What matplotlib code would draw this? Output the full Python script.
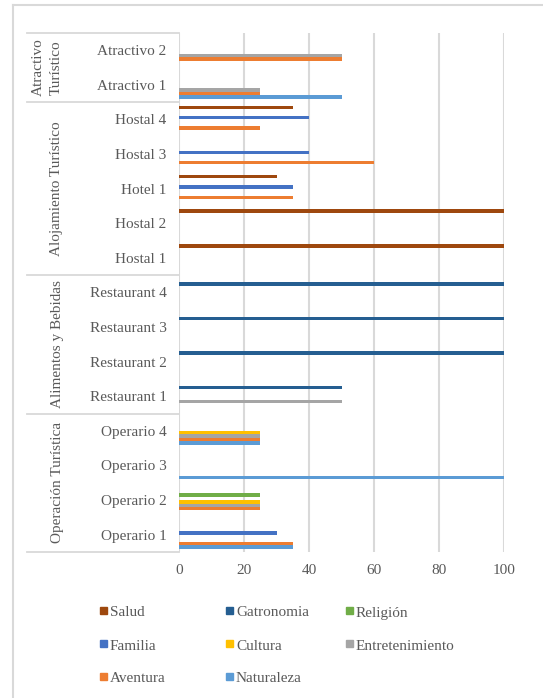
import numpy as np
import matplotlib.pyplot as plt
from matplotlib.patches import Rectangle
from matplotlib.lines import Line2D
from matplotlib.transforms import blended_transform_factory

plt.rcParams['font.family'] = ['Liberation Serif', 'DejaVu Serif']

# categories from bottom to top
categories = ["Operario 1", "Operario 2", "Operario 3", "Operario 4",
              "Restaurant 1", "Restaurant 2", "Restaurant 3", "Restaurant 4",
              "Hostal 1", "Hostal 2", "Hotel 1", "Hostal 3", "Hostal 4",
              "Atractivo 1", "Atractivo 2"]

groups = ["Operación Turística", "Alimentos y Bebidas",
          "Alojamiento Turístico", "Atractivo\nTurístico"]
group_sizes = [4, 4, 5, 2]

# series (drawn bottom to top within each category)
naturaleza      = [35, 0, 100, 25, 0, 0, 0, 0, 0, 0, 0, 0, 0, 50, 0]
aventura        = [35, 25, 0, 25, 0, 0, 0, 0, 0, 0, 35, 60, 25, 25, 50]
entretenimiento = [0, 25, 0, 25, 50, 0, 0, 0, 0, 0, 0, 0, 0, 25, 50]
cultura         = [0, 25, 0, 25, 0, 0, 0, 0, 0, 0, 0, 0, 0, 0, 0]
familia         = [30, 0, 0, 0, 0, 0, 0, 0, 0, 0, 35, 40, 40, 0, 0]
religion        = [0, 25, 0, 0, 0, 0, 0, 0, 0, 0, 0, 0, 0, 0, 0]
gatronomia      = [0, 0, 0, 0, 50, 100, 100, 100, 0, 0, 0, 0, 0, 0, 0]
salud           = [0, 0, 0, 0, 0, 0, 0, 0, 100, 100, 30, 0, 35, 0, 0]

series_names = ["Naturaleza", "Aventura", "Entretenimiento", "Cultura",
                "Familia", "Religión", "Gatronomia", "Salud"]
series_values = [naturaleza, aventura, entretenimiento, cultura,
                 familia, religion, gatronomia, salud]
colors = ["#5B9BD5", "#ED7D31", "#A5A5A5", "#FFC000",
          "#4472C4", "#70AD47", "#255E91", "#9E480E"]

xticks = [0, 20, 40, 60, 80, 100]

W, H = 543, 698
txt = "#595959"
grid = "#D9D9D9"
fs = 11

fig = plt.figure(figsize=(W / 100, H / 100), dpi=100)
ax = fig.add_axes([179 / W, 1 - 552 / H, (504 - 179) / W, (552 - 33) / H])

y = np.arange(len(categories))
h = 0.8 / len(series_names)
for k, (vals, c) in enumerate(zip(series_values, colors)):
    v = np.array(vals, dtype=float)
    v[v == 0] = np.nan
    ax.barh(y + (k - 3.5) * h, v, height=h, color=c, linewidth=0, zorder=3)

ax.set_xlim(0, 100)
ax.set_ylim(-0.5, len(categories) - 0.5)
ax.set_xticks(xticks)
ax.set_yticks(y)
ax.set_yticklabels(categories)
ax.tick_params(axis='both', length=0, colors=txt, labelsize=fs)
ax.tick_params(axis='y', pad=9)
ax.tick_params(axis='x', pad=9)
ax.grid(axis='x', color=grid, linewidth=1.5, zorder=0)
for s in ax.spines.values():
    s.set_visible(False)

# multi-level category axis
tr = blended_transform_factory(fig.transFigure, ax.transData)
bounds = np.concatenate([[0], np.cumsum(group_sizes)]) - 0.5
for b in bounds:
    fig.add_artist(Line2D([27 / W, 179 / W], [b, b], transform=tr,
                          color=grid, linewidth=1.3))
for name, lo, hi in zip(groups, bounds[:-1], bounds[1:]):
    xg = 47 / W if "\n" in name else 57 / W
    fig.text(xg, (lo + hi) / 2, name, transform=tr, rotation=90,
             ha='center', va='center', color=txt, fontsize=fs,
             linespacing=1.5)

# chart outer frame (partly cropped)
fig.add_artist(Line2D([13 / W, 1], [1 - 5 / H, 1 - 5 / H], color=grid, linewidth=1.5))
fig.add_artist(Line2D([13 / W, 13 / W], [0, 1 - 5 / H], color=grid, linewidth=1.5))

# legend, Excel style 3 columns
legend_order = [7, 6, 5, 4, 3, 2, 1, 0]
col_x = [103, 229, 349]
row_y = [610, 643, 676]
for i, k in enumerate(legend_order):
    cx, ry = col_x[i % 3], row_y[i // 3]
    fig.add_artist(Rectangle(((cx - 3.5) / W, 1 - (ry + 3.5) / H), 7 / W, 7 / H,
                             color=colors[k], transform=fig.transFigure))
    fig.text((cx + 7) / W, 1 - (ry + 1.5) / H, series_names[k], ha='left',
             va='center_baseline', color=txt, fontsize=fs)

fig.savefig("out.png", dpi=100)
